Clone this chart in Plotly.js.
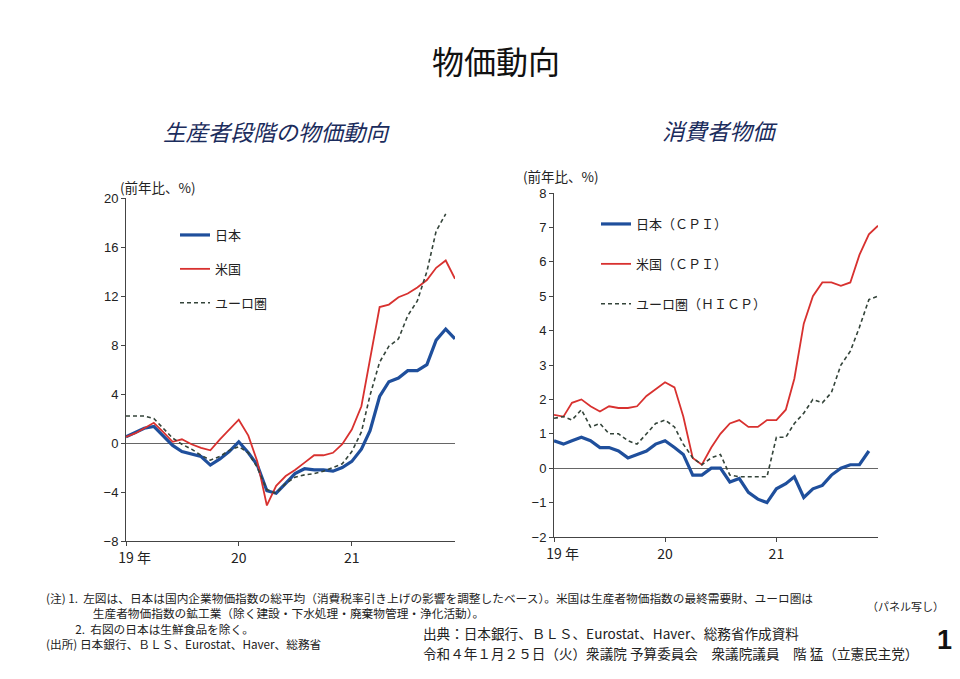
<!DOCTYPE html>
<html><head><meta charset="utf-8">
<script src="https://cdn.plot.ly/plotly-3.0.1.min.js"></script>
<style>html,body{margin:0;padding:0;background:#fff}#chart{width:960px;height:679px}</style>
</head><body><div id="chart"></div>
<script>
// ---- data ----
const months = ['2019-01-01','2019-02-01','2019-03-01','2019-04-01','2019-05-01','2019-06-01','2019-07-01','2019-08-01','2019-09-01','2019-10-01','2019-11-01','2019-12-01',
'2020-01-01','2020-02-01','2020-03-01','2020-04-01','2020-05-01','2020-06-01','2020-07-01','2020-08-01','2020-09-01','2020-10-01','2020-11-01','2020-12-01',
'2021-01-01','2021-02-01','2021-03-01','2021-04-01','2021-05-01','2021-06-01','2021-07-01','2021-08-01','2021-09-01','2021-10-01','2021-11-01','2021-12-01'];

// Left: producer prices (y/y %)
const ppiJapan = [0.5,0.9,1.2,1.35,0.6,-0.2,-0.7,-0.9,-1.1,-1.8,-1.3,-0.7,
                  0.1,-0.8,-1.8,-3.9,-4.1,-3.3,-2.5,-2.1,-2.2,-2.2,-2.3,-2.0,
                  -1.5,-0.5,1.0,3.8,5.0,5.3,5.9,5.9,6.4,8.4,9.3,8.5];
const ppiUS    = [0.5,0.8,1.2,1.65,0.9,0.1,0.3,-0.1,-0.4,-0.6,0.3,1.1,
                  1.9,0.6,-1.5,-5.1,-3.5,-2.7,-2.2,-1.6,-1.0,-1.0,-0.8,-0.1,
                  1.1,3.0,7.0,11.1,11.3,11.9,12.2,12.7,13.3,14.3,14.9,13.4];
const ppiEuro  = [2.2,2.2,2.2,2.0,1.2,0.4,-0.1,-0.5,-1.0,-1.4,-1.1,-0.6,
                  -0.3,-0.8,-2.0,-3.8,-4.1,-3.3,-2.8,-2.6,-2.5,-2.3,-2.0,-1.7,
                  -0.7,0.9,3.9,6.6,7.9,8.5,10.4,11.6,14.0,17.3,18.7];
// Right: consumer prices (y/y %)
const cpiJapan = [0.8,0.7,0.8,0.9,0.8,0.6,0.6,0.5,0.3,0.4,0.5,0.7,
                  0.8,0.6,0.4,-0.2,-0.2,0.0,0.0,-0.4,-0.3,-0.7,-0.9,-1.0,
                  -0.6,-0.45,-0.25,-0.85,-0.6,-0.5,-0.2,0.0,0.1,0.1,0.5];
const cpiUS    = [1.55,1.5,1.9,2.0,1.8,1.65,1.8,1.75,1.75,1.8,2.1,2.3,
                  2.5,2.35,1.5,0.3,0.1,0.6,1.0,1.3,1.4,1.2,1.2,1.4,
                  1.4,1.7,2.6,4.2,5.0,5.4,5.4,5.3,5.4,6.2,6.8,7.05];
const cpiEuro  = [1.45,1.5,1.4,1.7,1.2,1.3,1.0,1.0,0.8,0.7,1.0,1.3,
                  1.4,1.2,0.7,0.3,0.1,0.3,0.4,-0.2,-0.25,-0.25,-0.25,-0.25,
                  0.9,0.9,1.3,1.6,2.0,1.9,2.2,3.0,3.4,4.1,4.9,5.0];

const yearTickVals = ['2019-01-01','2020-01-01','2021-01-01'];
const yearTickText = ['<span style="color:rgba(0,0,0,0)">年 </span>19 年','20','21'];
const leftYTicks = [-8,-4,0,4,8,12,16,20];
const rightYTicks = [-2,-1,0,1,2,3,4,5,6,7,8];
const leftNames = ['日本','米国','ユーロ圏'];
const rightNames = ['日本（ＣＰＩ）','米国（ＣＰＩ）','ユーロ圏（ＨＩＣＰ）'];

// ---- styles ----
const W = 960, H = 679;
const px = v => v / W, py = v => 1 - v / H;
const JP = '"Noto Sans CJK JP", "Noto Sans", sans-serif';
const NUM = '"Liberation Sans", Arial, sans-serif';
const cJapan = '#1f4f9c', cUS = '#d8312f', cEuro = '#34443a';
const dashEuro = '4px,3px';

function tr(x, y, name, color, width, dash, xa, ya, leg, grp) {
  return {x: x, y: y, name: name, type: 'scatter', mode: 'lines',
    line: {color: color, width: width, dash: dash || 'solid'},
    xaxis: xa, yaxis: ya, legend: leg, legendgroup: grp, hoverinfo: 'skip'};
}

const data = [
  tr(months, ppiJapan, leftNames[0], cJapan, 3.2, null, 'x', 'y', 'legend', 'a'),
  tr(months, ppiUS, leftNames[1], cUS, 1.8, null, 'x', 'y', 'legend', 'b'),
  tr(months.slice(0, ppiEuro.length), ppiEuro, leftNames[2], cEuro, 1.6, dashEuro, 'x', 'y', 'legend', 'c'),
  tr(months.slice(0, cpiJapan.length), cpiJapan, rightNames[0], cJapan, 3.2, null, 'x2', 'y2', 'legend2', 'd'),
  tr(months, cpiUS, rightNames[1], cUS, 1.8, null, 'x2', 'y2', 'legend2', 'e'),
  tr(months, cpiEuro, rightNames[2], cEuro, 1.6, dashEuro, 'x2', 'y2', 'legend2', 'f')
];

const xCommon = {type: 'date', range: ['2019-01-01','2021-12-01'], tickvals: yearTickVals, ticktext: yearTickText,
  showgrid: false, zeroline: false, showline: true, linecolor: '#444', linewidth: 1,
  ticks: 'outside', ticklen: 4, tickcolor: '#444', tickfont: {family: JP, size: 14, color: '#222'}, fixedrange: true};
const yCommon = {showgrid: false, zeroline: true, zerolinecolor: '#666', zerolinewidth: 1,
  showline: true, linecolor: '#444', linewidth: 1, ticks: 'outside', ticklen: 4, tickcolor: '#444',
  tickfont: {family: NUM, size: 13, color: '#222'}, fixedrange: true};

const annFont = (s, c) => ({family: JP, size: s, color: c || '#222'});
function note(text, x, y, size, opts) {
  return Object.assign({text: text, xref: 'paper', yref: 'paper', x: px(x), y: py(y), xanchor: 'left', yanchor: 'middle',
    showarrow: false, align: 'left', font: annFont(size)}, opts || {});
}

const footNotesA = [
  '(注) 1.  左図は、日本は国内企業物価指数の総平均（消費税率引き上げの影響を調整したベース）。米国は生産者物価指数の最終需要財、ユーロ圏は',
  '\u3000\u3000\u3000\u3000生産者物価指数の鉱工業（除く建設・下水処理・廃棄物管理・浄化活動）。'
];
const footNotesB = [
  '\u3000\u3000\u20022.  右図の日本は生鮮食品を除く。',
  '(出所) 日本銀行、ＢＬＳ、Eurostat、Haver、総務省'
];
const sourceLine1 = '出典：日本銀行、ＢＬＳ、Eurostat、Haver、総務省作成資料';
const sourceLine2 = '令和４年１月２５日（火）衆議院 予算委員会　衆議院議員　階 猛（立憲民主党）';

const layout = {
  width: W, height: H, margin: {l: 0, r: 0, t: 0, b: 0},
  paper_bgcolor: '#fff', plot_bgcolor: 'rgba(0,0,0,0)',
  showlegend: true,
  xaxis: Object.assign({}, xCommon, {domain: [px(126), px(455)], anchor: 'y'}),
  yaxis: Object.assign({}, yCommon, {domain: [py(541), py(198)], range: [-8, 20], tickvals: leftYTicks, anchor: 'x'}),
  xaxis2: Object.assign({}, xCommon, {domain: [px(554), px(878)], anchor: 'y2'}),
  yaxis2: Object.assign({}, yCommon, {domain: [py(537), py(193)], range: [-2, 8], tickvals: rightYTicks, anchor: 'x2'}),
  legend: {x: px(175), y: py(220), xanchor: 'left', yanchor: 'top', bgcolor: 'rgba(0,0,0,0)',
    font: {family: JP, size: 13, color: '#222'}, traceorder: 'grouped', tracegroupgap: 14, itemwidth: 30},
  legend2: {x: px(596), y: py(209), xanchor: 'left', yanchor: 'top', bgcolor: 'rgba(0,0,0,0)',
    font: {family: JP, size: 13, color: '#222'}, traceorder: 'grouped', tracegroupgap: 20, itemwidth: 30},
  annotations: [
    note('物価動向', 496, 60, 32, {xanchor: 'center', font: annFont(32, '#111')}),
    note('生産者段階の物価動向', 277, 131, 22.5, {xanchor: 'center', font: {family: JP, size: 22.5, color: '#1b2c5c', style: 'italic'}}),
    note('消費者物価', 720, 130, 22.5, {xanchor: 'center', font: {family: JP, size: 22.5, color: '#1b2c5c', style: 'italic'}}),
    note('(前年比、%)', 118, 187, 13.5),
    note('(前年比、%)', 521, 176, 13.5),
    note(footNotesA.join('<br>'), 45, 605, 11.7, {borderpad: 0}),
    note(footNotesB.join('<br>'), 45, 636, 11.7, {borderpad: 0}),
    note('（パネル写し）', 865, 606, 11),
    note(sourceLine1, 422, 633, 13.6, {borderpad: 0}),
    note(sourceLine2, 422, 653, 13.6, {borderpad: 0}),
    note('1', 944, 640, 27, {xanchor: 'center', font: {family: NUM, size: 27, color: '#111', weight: 'bold'}})
  ]
};

Plotly.newPlot('chart', data, layout, {staticPlot: true, displayModeBar: false});
</script></body></html>
